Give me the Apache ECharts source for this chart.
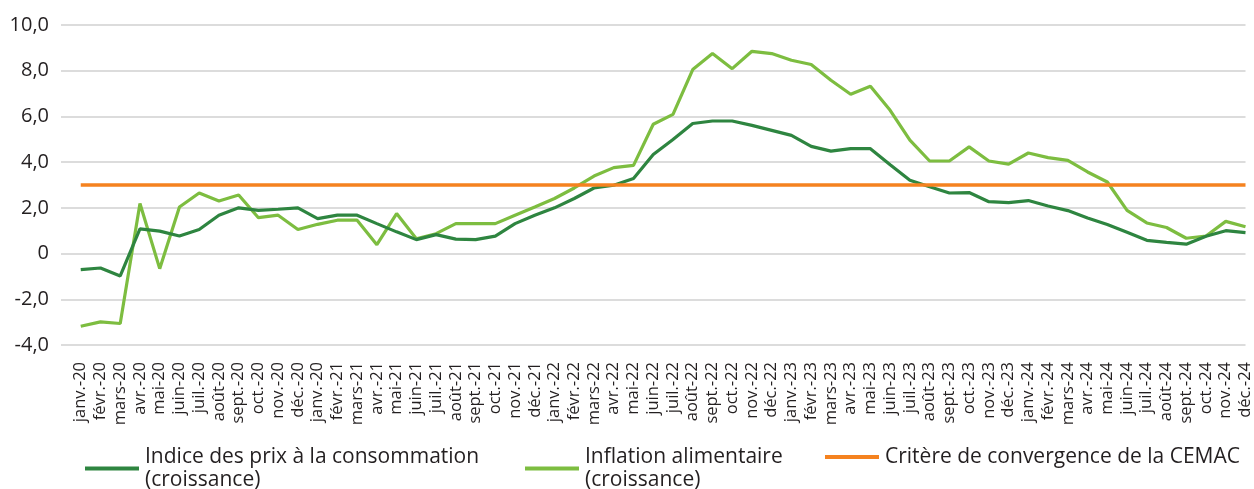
<!DOCTYPE html>
<html>
<head>
<meta charset="utf-8">
<script src="https://cdn.jsdelivr.net/npm/echarts@6/dist/echarts.min.js"></script>
<style>
  html, body { margin: 0; padding: 0; background: #fff; }
  #chart { width: 1254px; height: 489px; }
</style>
</head>
<body>
<div id="chart"></div>
<script>
// months as written on the source chart (13th label really reads "janv.-20")
const months = [
  'janv.-20', 'févr.-20', 'mars-20', 'avr.-20', 'mai-20', 'juin-20', 'juil.-20', 'août-20', 'sept.-20', 'oct.-20', 'nov.-20', 'déc.-20',
  'janv.-20', 'févr.-21', 'mars-21', 'avr.-21', 'mai-21', 'juin-21', 'juil.-21', 'août-21', 'sept.-21', 'oct.-21', 'nov.-21', 'déc.-21',
  'janv.-22', 'févr.-22', 'mars-22', 'avr.-22', 'mai-22', 'juin-22', 'juil.-22', 'août-22', 'sept.-22', 'oct.-22', 'nov.-22', 'déc.-22',
  'janv.-23', 'févr.-23', 'mars-23', 'avr.-23', 'mai-23', 'juin-23', 'juil.-23', 'août-23', 'sept.-23', 'oct.-23', 'nov.-23', 'déc.-23',
  'janv.-24', 'févr.-24', 'mars-24', 'avr.-24', 'mai-24', 'juin-24', 'juil.-24', 'août-24', 'sept.-24', 'oct.-24', 'nov.-24', 'déc.-24'
];

// Indice des prix à la consommation (croissance, %)
const ipc = [
  -0.70, -0.63, -0.98, 1.08, 0.98, 0.77, 1.05, 1.68, 2.00, 1.89, 1.94, 2.00,
  1.53, 1.68, 1.68, 1.31, 0.95, 0.61, 0.83, 0.63, 0.61, 0.76, 1.31, 1.68,
  2.00, 2.41, 2.87, 2.99, 3.28, 4.33, 4.99, 5.69, 5.80, 5.80, 5.61, 5.39,
  5.17, 4.69, 4.48, 4.59, 4.59, 3.89, 3.21, 2.92, 2.65, 2.67, 2.27, 2.23,
  2.32, 2.08, 1.88, 1.56, 1.27, 0.93, 0.58, 0.49, 0.41, 0.76, 1.00, 0.92
];

// Inflation alimentaire (croissance, %)
const alimentaire = [
  -3.18, -2.99, -3.06, 2.19, -0.66, 2.04, 2.65, 2.30, 2.56, 1.57, 1.68, 1.05,
  1.28, 1.46, 1.46, 0.39, 1.75, 0.65, 0.87, 1.31, 1.31, 1.31, 1.68, 2.04,
  2.41, 2.87, 3.39, 3.76, 3.86, 5.66, 6.09, 8.05, 8.75, 8.09, 8.85, 8.75,
  8.46, 8.27, 7.58, 6.97, 7.32, 6.27, 4.96, 4.05, 4.05, 4.67, 4.05, 3.91,
  4.40, 4.20, 4.08, 3.57, 3.13, 1.89, 1.34, 1.14, 0.67, 0.77, 1.41, 1.17
];

// Critère de convergence de la CEMAC (3 %)
const critere = [
  3, 3, 3, 3, 3, 3, 3, 3, 3, 3, 3, 3,
  3, 3, 3, 3, 3, 3, 3, 3, 3, 3, 3, 3,
  3, 3, 3, 3, 3, 3, 3, 3, 3, 3, 3, 3,
  3, 3, 3, 3, 3, 3, 3, 3, 3, 3, 3, 3,
  3, 3, 3, 3, 3, 3, 3, 3, 3, 3, 3, 3
];

const yTicks = { min: -4, max: 10, step: 2 };

const names = [
  'Indice des prix à la consommation\n(croissance)',
  'Inflation alimentaire\n(croissance)',
  'Critère de convergence de la CEMAC'
];

const font = '"Open Sans", "Noto Sans", sans-serif';
const textColor = '#231f20';

const chart = echarts.init(document.getElementById('chart'));

function legendFor(name, left) {
  return {
    data: [name],
    left: left,
    top: 434,
    orient: 'horizontal',
    icon: 'rect',
    itemWidth: 54,
    itemHeight: 4,
    itemGap: 0,
    padding: 0,
    selectedMode: false,
    textStyle: {
      fontFamily: font,
      fontSize: 21,
      color: textColor,
      lineHeight: 23,
      padding: [23, 0, 0, 1]
    }
  };
}

const option = {
  animation: false,
  backgroundColor: '#fff',
  grid: {
    left: 61,
    right: 7,
    top: 25,
    bottom: 144,
    containLabel: false
  },
  legend: [
    legendFor(names[0], 85),
    legendFor(names[1], 525),
    legendFor(names[2], 825)
  ],
  xAxis: {
    type: 'category',
    data: months,
    boundaryGap: false,
    min: -1,
    max: 59,
    axisLine: { show: false },
    axisTick: { show: false },
    splitLine: { show: false },
    axisLabel: {
      interval: 0,
      rotate: 90,
      margin: 17,
      fontFamily: font,
      fontSize: 16.5,
      color: textColor,
      formatter: v => (v == null || v === 'undefined') ? '' : v
    }
  },
  yAxis: {
    type: 'value',
    min: yTicks.min,
    max: yTicks.max,
    interval: yTicks.step,
    axisLine: { show: false },
    axisTick: { show: false },
    splitLine: { lineStyle: { color: '#d0d0d0', width: 1.5 } },
    axisLabel: {
      margin: 12,
      fontFamily: font,
      fontSize: 20,
      color: textColor,
      formatter: v => v === 0 ? '0' : v.toFixed(1).replace('.', ',')
    }
  },
  series: [
    {
      name: names[0],
      type: 'line',
      data: ipc,
      symbol: 'none',
      color: '#2e8540',
      lineStyle: { width: 3.2, color: '#2e8540' },
      z: 3
    },
    {
      name: names[1],
      type: 'line',
      data: alimentaire,
      symbol: 'none',
      color: '#7dbd40',
      lineStyle: { width: 3.2, color: '#7dbd40' },
      z: 2
    },
    {
      name: names[2],
      type: 'line',
      data: critere,
      symbol: 'none',
      color: '#f5821f',
      lineStyle: { width: 3.5, color: '#f5821f' },
      z: 4
    }
  ]
};

chart.setOption(option);
</script>
</body>
</html>
